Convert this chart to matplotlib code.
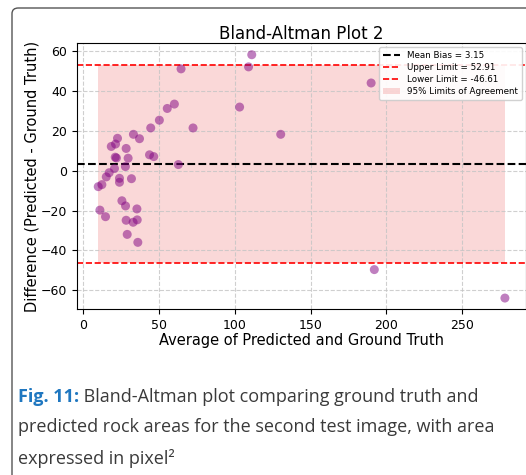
import matplotlib
matplotlib.use("Agg")
import matplotlib.pyplot as plt
from matplotlib.patches import FancyBboxPatch
import numpy as np

# Average of predicted and ground truth (x) and difference (y)
means = [111.2, 109.1, 189.9, 103.2, 130.3, 192.0, 278.1,
         64.6, 60.2, 55.5, 50.3, 44.6, 72.5, 33.2, 37.2, 22.7, 18.6, 21.4, 28.4,
         43.8, 46.6, 21.2, 22.0, 29.7, 27.9, 62.8, 20.7, 17.2, 15.3, 24.0, 24.0,
         31.9, 12.4, 10.0,
         11.1, 14.8, 25.6, 28.0, 35.5, 28.4, 33.0, 35.7, 29.1, 36.1]
diffs = [58.3, 52.2, 44.1, 32.0, 18.3, -49.7, -64.0,
         51.2, 33.5, 31.3, 25.4, 21.5, 21.5, 18.3, 16.1, 16.3, 12.2, 13.4, 11.2,
         8.0, 7.1, 6.8, 6.4, 6.3, 2.1, 3.1, 1.1, -1.0, -3.1, -3.8, -5.8,
         -4.0, -7.0, -8.0,
         -19.8, -23.1, -15.1, -17.7, -19.2, -24.9, -25.9, -24.7, -32.0, -36.0]

mean_bias = 3.15
upper_limit = 52.91
lower_limit = -46.61

caption_head = "Fig. 11:"
caption_lines = [" Bland-Altman plot comparing ground truth and",
                 "predicted rock areas for the second test image, with area",
                 "expressed in pixel²"]

fig = plt.figure(figsize=(5.26, 4.75), dpi=100)

# rounded frame around figure + caption
frame = FancyBboxPatch((12 / 526, -0.05), 1.2, 1.05 - 8 / 475,
                       boxstyle="round,pad=0,rounding_size=0.012",
                       transform=fig.transFigure, fill=False,
                       edgecolor="#555555", linewidth=1.0)
fig.patches.append(frame)

ax = fig.add_axes([77 / 526, 1 - 309 / 475, 449 / 526, 266 / 475])

ax.scatter(means, diffs, color="purple", alpha=0.5, s=42, edgecolors="none", zorder=3)
ax.axhline(mean_bias, color="black", linestyle="--", linewidth=1.5,
           label=f"Mean Bias = {mean_bias:.2f}")
ax.axhline(upper_limit, color="red", linestyle="--", linewidth=1.2,
           label=f"Upper Limit = {upper_limit:.2f}")
ax.axhline(lower_limit, color="red", linestyle="--", linewidth=1.2,
           label=f"Lower Limit = {lower_limit:.2f}")
ax.fill_between([min(means), max(means)], lower_limit, upper_limit,
                color="lightcoral", alpha=0.3, linewidth=0,
                label="95% Limits of Agreement")

ax.set_xlim(-4, 292)
ax.set_ylim(-69.5, 64.2)
ax.set_xticks([0, 50, 100, 150, 200, 250])
ax.set_yticks([-60, -40, -20, 0, 20, 40, 60])
ax.grid(True, linestyle="--", color="#c4c4c4", alpha=0.8, linewidth=0.8)
ax.tick_params(labelsize=9)

ax.set_title("Bland-Altman Plot 2", fontsize=12, pad=3)
ax.set_xlabel("Average of Predicted and Ground Truth", fontsize=10.5, labelpad=1)
ax.set_ylabel("Difference (Predicted - Ground Truth)", fontsize=10.5, labelpad=1)
ax.legend(loc="upper right", fontsize=6.3, framealpha=0.9, borderpad=0.4,
          handlelength=2.0, labelspacing=0.35)

# caption under the chart
cap_font = ["Open Sans", "DejaVu Sans"]
cap_size = 13
head = fig.text(18 / 526, 1 - 397 / 475, caption_head, fontsize=cap_size, fontweight="bold",
                color="#1f77c0", family=cap_font, va="center", ha="left")
fig.canvas.draw()
bb = head.get_window_extent(fig.canvas.get_renderer())
fig.text(bb.x1 / fig.bbox.width, 1 - 397 / 475, caption_lines[0], fontsize=cap_size,
         color="#3a3a3a", family=cap_font, va="center", ha="left")
for i, line in enumerate(caption_lines[1:]):
    fig.text(18 / 526, 1 - (427.5 + 30.5 * i) / 475, line, fontsize=cap_size,
             color="#3a3a3a", family=cap_font, va="center", ha="left")

fig.savefig("out.png", dpi=100)
